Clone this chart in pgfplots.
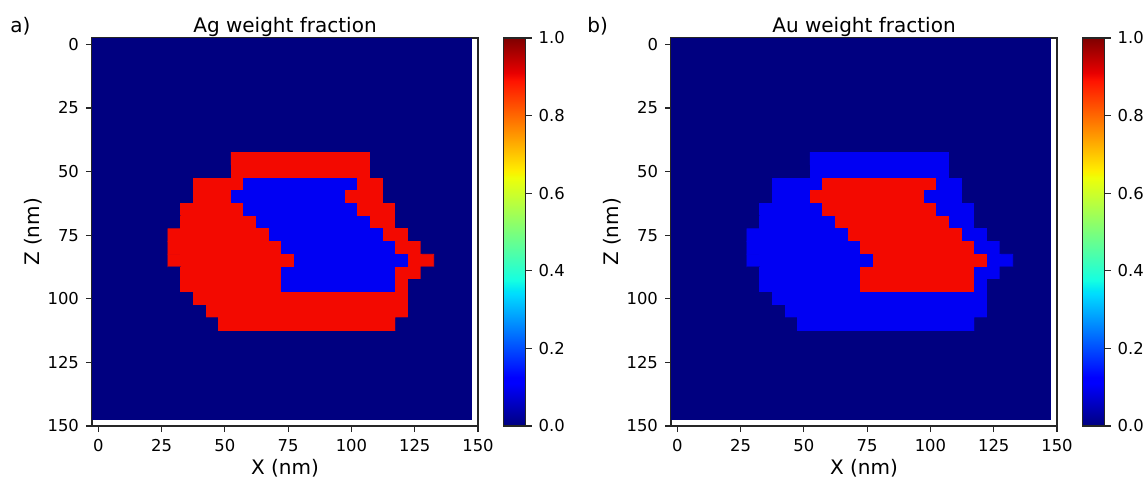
\documentclass[border=0pt]{standalone}
\usepackage{pgfplots}
\pgfplotsset{compat=1.18}
\usepackage{pgfplotstable}
\usepackage{fontspec}
\setmainfont{DejaVu Sans}
\definecolor{navyjet}{rgb}{0,0,0.5}
\definecolor{spine}{rgb}{0.15,0.15,0.15}
\pgfplotsset{colormap={mpljet}{rgb(0pt)=(0,0,0.5); rgb(110pt)=(0,0,1); rgb(125pt)=(0,0,1); rgb(340pt)=(0,0.86,1); rgb(350pt)=(0,0.9,0.968); rgb(375pt)=(0.081,1,0.887); rgb(640pt)=(0.935,1,0.032); rgb(650pt)=(0.968,0.963,0); rgb(660pt)=(1,0.926,0); rgb(890pt)=(1,0.074,0); rgb(910pt)=(0.909,0,0); rgb(1000pt)=(0.5,0,0)}}

\pgfplotstableread[row sep=\\]{
x y ag au\\
30 45 0 0\\ 35 45 0 0\\ 40 45 0 0\\ 45 45 0 0\\ 50 45 0 0\\ 55 45 0.9 0.1\\ 60 45 0.9 0.1\\ 65 45 0.9 0.1\\ 70 45 0.9 0.1\\ 75 45 0.9 0.1\\ 80 45 0.9 0.1\\ 85 45 0.9 0.1\\ 90 45 0.9 0.1\\ 95 45 0.9 0.1\\ 100 45 0.9 0.1\\ 105 45 0.9 0.1\\ 110 45 0 0\\ 115 45 0 0\\ 120 45 0 0\\ 125 45 0 0\\ 130 45 0 0\\
30 50 0 0\\ 35 50 0 0\\ 40 50 0 0\\ 45 50 0 0\\ 50 50 0 0\\ 55 50 0.9 0.1\\ 60 50 0.9 0.1\\ 65 50 0.9 0.1\\ 70 50 0.9 0.1\\ 75 50 0.9 0.1\\ 80 50 0.9 0.1\\ 85 50 0.9 0.1\\ 90 50 0.9 0.1\\ 95 50 0.9 0.1\\ 100 50 0.9 0.1\\ 105 50 0.9 0.1\\ 110 50 0 0\\ 115 50 0 0\\ 120 50 0 0\\ 125 50 0 0\\ 130 50 0 0\\
30 55 0 0\\ 35 55 0 0\\ 40 55 0.9 0.1\\ 45 55 0.9 0.1\\ 50 55 0.9 0.1\\ 55 55 0.9 0.1\\ 60 55 0.1 0.9\\ 65 55 0.1 0.9\\ 70 55 0.1 0.9\\ 75 55 0.1 0.9\\ 80 55 0.1 0.9\\ 85 55 0.1 0.9\\ 90 55 0.1 0.9\\ 95 55 0.1 0.9\\ 100 55 0.1 0.9\\ 105 55 0.9 0.1\\ 110 55 0.9 0.1\\ 115 55 0 0\\ 120 55 0 0\\ 125 55 0 0\\ 130 55 0 0\\
30 60 0 0\\ 35 60 0 0\\ 40 60 0.9 0.1\\ 45 60 0.9 0.1\\ 50 60 0.9 0.1\\ 55 60 0.1 0.9\\ 60 60 0.1 0.9\\ 65 60 0.1 0.9\\ 70 60 0.1 0.9\\ 75 60 0.1 0.9\\ 80 60 0.1 0.9\\ 85 60 0.1 0.9\\ 90 60 0.1 0.9\\ 95 60 0.1 0.9\\ 100 60 0.9 0.1\\ 105 60 0.9 0.1\\ 110 60 0.9 0.1\\ 115 60 0 0\\ 120 60 0 0\\ 125 60 0 0\\ 130 60 0 0\\
30 65 0 0\\ 35 65 0.9 0.1\\ 40 65 0.9 0.1\\ 45 65 0.9 0.1\\ 50 65 0.9 0.1\\ 55 65 0.9 0.1\\ 60 65 0.1 0.9\\ 65 65 0.1 0.9\\ 70 65 0.1 0.9\\ 75 65 0.1 0.9\\ 80 65 0.1 0.9\\ 85 65 0.1 0.9\\ 90 65 0.1 0.9\\ 95 65 0.1 0.9\\ 100 65 0.1 0.9\\ 105 65 0.9 0.1\\ 110 65 0.9 0.1\\ 115 65 0.9 0.1\\ 120 65 0 0\\ 125 65 0 0\\ 130 65 0 0\\
30 70 0 0\\ 35 70 0.9 0.1\\ 40 70 0.9 0.1\\ 45 70 0.9 0.1\\ 50 70 0.9 0.1\\ 55 70 0.9 0.1\\ 60 70 0.9 0.1\\ 65 70 0.1 0.9\\ 70 70 0.1 0.9\\ 75 70 0.1 0.9\\ 80 70 0.1 0.9\\ 85 70 0.1 0.9\\ 90 70 0.1 0.9\\ 95 70 0.1 0.9\\ 100 70 0.1 0.9\\ 105 70 0.1 0.9\\ 110 70 0.9 0.1\\ 115 70 0.9 0.1\\ 120 70 0 0\\ 125 70 0 0\\ 130 70 0 0\\
30 75 0.9 0.1\\ 35 75 0.9 0.1\\ 40 75 0.9 0.1\\ 45 75 0.9 0.1\\ 50 75 0.9 0.1\\ 55 75 0.9 0.1\\ 60 75 0.9 0.1\\ 65 75 0.9 0.1\\ 70 75 0.1 0.9\\ 75 75 0.1 0.9\\ 80 75 0.1 0.9\\ 85 75 0.1 0.9\\ 90 75 0.1 0.9\\ 95 75 0.1 0.9\\ 100 75 0.1 0.9\\ 105 75 0.1 0.9\\ 110 75 0.1 0.9\\ 115 75 0.9 0.1\\ 120 75 0.9 0.1\\ 125 75 0 0\\ 130 75 0 0\\
30 80 0.9 0.1\\ 35 80 0.9 0.1\\ 40 80 0.9 0.1\\ 45 80 0.9 0.1\\ 50 80 0.9 0.1\\ 55 80 0.9 0.1\\ 60 80 0.9 0.1\\ 65 80 0.9 0.1\\ 70 80 0.9 0.1\\ 75 80 0.1 0.9\\ 80 80 0.1 0.9\\ 85 80 0.1 0.9\\ 90 80 0.1 0.9\\ 95 80 0.1 0.9\\ 100 80 0.1 0.9\\ 105 80 0.1 0.9\\ 110 80 0.1 0.9\\ 115 80 0.1 0.9\\ 120 80 0.9 0.1\\ 125 80 0.9 0.1\\ 130 80 0 0\\
30 85 0.9 0.1\\ 35 85 0.9 0.1\\ 40 85 0.9 0.1\\ 45 85 0.9 0.1\\ 50 85 0.9 0.1\\ 55 85 0.9 0.1\\ 60 85 0.9 0.1\\ 65 85 0.9 0.1\\ 70 85 0.9 0.1\\ 75 85 0.9 0.1\\ 80 85 0.1 0.9\\ 85 85 0.1 0.9\\ 90 85 0.1 0.9\\ 95 85 0.1 0.9\\ 100 85 0.1 0.9\\ 105 85 0.1 0.9\\ 110 85 0.1 0.9\\ 115 85 0.1 0.9\\ 120 85 0.1 0.9\\ 125 85 0.9 0.1\\ 130 85 0.9 0.1\\
30 90 0 0\\ 35 90 0.9 0.1\\ 40 90 0.9 0.1\\ 45 90 0.9 0.1\\ 50 90 0.9 0.1\\ 55 90 0.9 0.1\\ 60 90 0.9 0.1\\ 65 90 0.9 0.1\\ 70 90 0.9 0.1\\ 75 90 0.1 0.9\\ 80 90 0.1 0.9\\ 85 90 0.1 0.9\\ 90 90 0.1 0.9\\ 95 90 0.1 0.9\\ 100 90 0.1 0.9\\ 105 90 0.1 0.9\\ 110 90 0.1 0.9\\ 115 90 0.1 0.9\\ 120 90 0.9 0.1\\ 125 90 0.9 0.1\\ 130 90 0 0\\
30 95 0 0\\ 35 95 0.9 0.1\\ 40 95 0.9 0.1\\ 45 95 0.9 0.1\\ 50 95 0.9 0.1\\ 55 95 0.9 0.1\\ 60 95 0.9 0.1\\ 65 95 0.9 0.1\\ 70 95 0.9 0.1\\ 75 95 0.1 0.9\\ 80 95 0.1 0.9\\ 85 95 0.1 0.9\\ 90 95 0.1 0.9\\ 95 95 0.1 0.9\\ 100 95 0.1 0.9\\ 105 95 0.1 0.9\\ 110 95 0.1 0.9\\ 115 95 0.1 0.9\\ 120 95 0.9 0.1\\ 125 95 0 0\\ 130 95 0 0\\
30 100 0 0\\ 35 100 0 0\\ 40 100 0.9 0.1\\ 45 100 0.9 0.1\\ 50 100 0.9 0.1\\ 55 100 0.9 0.1\\ 60 100 0.9 0.1\\ 65 100 0.9 0.1\\ 70 100 0.9 0.1\\ 75 100 0.9 0.1\\ 80 100 0.9 0.1\\ 85 100 0.9 0.1\\ 90 100 0.9 0.1\\ 95 100 0.9 0.1\\ 100 100 0.9 0.1\\ 105 100 0.9 0.1\\ 110 100 0.9 0.1\\ 115 100 0.9 0.1\\ 120 100 0.9 0.1\\ 125 100 0 0\\ 130 100 0 0\\
30 105 0 0\\ 35 105 0 0\\ 40 105 0 0\\ 45 105 0.9 0.1\\ 50 105 0.9 0.1\\ 55 105 0.9 0.1\\ 60 105 0.9 0.1\\ 65 105 0.9 0.1\\ 70 105 0.9 0.1\\ 75 105 0.9 0.1\\ 80 105 0.9 0.1\\ 85 105 0.9 0.1\\ 90 105 0.9 0.1\\ 95 105 0.9 0.1\\ 100 105 0.9 0.1\\ 105 105 0.9 0.1\\ 110 105 0.9 0.1\\ 115 105 0.9 0.1\\ 120 105 0.9 0.1\\ 125 105 0 0\\ 130 105 0 0\\
30 110 0 0\\ 35 110 0 0\\ 40 110 0 0\\ 45 110 0 0\\ 50 110 0.9 0.1\\ 55 110 0.9 0.1\\ 60 110 0.9 0.1\\ 65 110 0.9 0.1\\ 70 110 0.9 0.1\\ 75 110 0.9 0.1\\ 80 110 0.9 0.1\\ 85 110 0.9 0.1\\ 90 110 0.9 0.1\\ 95 110 0.9 0.1\\ 100 110 0.9 0.1\\ 105 110 0.9 0.1\\ 110 110 0.9 0.1\\ 115 110 0.9 0.1\\ 120 110 0 0\\ 125 110 0 0\\ 130 110 0 0\\
}\grid

\pgfplotsset{
  mymap/.style={
    scale only axis, width=193pt, height=194pt,
    xmin=-2.5, xmax=150, ymin=-2.5, ymax=150, y dir=reverse,
    xtick={0,25,50,75,100,125,150}, ytick={0,25,50,75,100,125,150},
    tick align=outside, xtick pos=bottom, ytick pos=left,
    major tick length=3pt,
    axis line style={spine, line width=0.6pt},
    tick style={spine, line width=0.6pt},
    tick label style={font=\fontsize{8.2}{9.8}\selectfont},
    /pgf/number format/assume math mode=true,
    label style={font=\fontsize{10}{12}\selectfont},
    title style={font=\fontsize{10}{12}\selectfont, at={(axis description cs:0.5,1.013)}, anchor=base, yshift=-6pt},
    xlabel={X (nm)}, ylabel={Z (nm)},
    xlabel style={at={(axis description cs:0.5,-0.124)}, anchor=base},
    ylabel style={at={(axis description cs:-0.135,0.5)}, anchor=base},
    colormap name=mpljet, point meta min=0, point meta max=1,
    colorbar,
    colorbar style={
      at={(parent axis.north east)}, anchor=north west, xshift=4.25pt,
      scale only axis, width=11pt, height=194pt,
      ytick={0,0.2,0.4,0.6,0.8,1},
      yticklabel style={font=\fontsize{8.2}{9.8}\selectfont, /pgf/number format/.cd, fixed, fixed zerofill, precision=1, assume math mode=true},
      tick align=outside, ytick pos=right, major tick length=3pt,
      axis line style={spine, line width=0.6pt},
      tick style={spine, line width=0.6pt},
    },
  }
}

\begin{document}
\begin{tikzpicture}
\path[use as bounding box] (0pt,0pt) rectangle (572.5pt,238.5pt);

\begin{axis}[mymap, at={(46pt,25.5pt)}, anchor=south west, title={Ag weight fraction}]
\addplot[fill=navyjet, draw=none, forget plot] coordinates {(-2.5,-2.5) (147.5,-2.5) (147.5,147.5) (-2.5,147.5)} --cycle;
\addplot[matrix plot*, mesh/cols=21, point meta=explicit] table[x=x, y=y, meta=ag] {\grid};
\end{axis}

\begin{axis}[mymap, at={(335.5pt,25.5pt)}, anchor=south west, title={Au weight fraction}]
\addplot[fill=navyjet, draw=none, forget plot] coordinates {(-2.5,-2.5) (147.5,-2.5) (147.5,147.5) (-2.5,147.5)} --cycle;
\addplot[matrix plot*, mesh/cols=21, point meta=explicit] table[x=x, y=y, meta=au] {\grid};
\end{axis}

\node[anchor=base west, font=\fontsize{10}{12}\selectfont, inner sep=0pt] at (5pt,222pt) {a)};
\node[anchor=base west, font=\fontsize{10}{12}\selectfont, inner sep=0pt] at (293.5pt,222pt) {b)};
\end{tikzpicture}
\end{document}
